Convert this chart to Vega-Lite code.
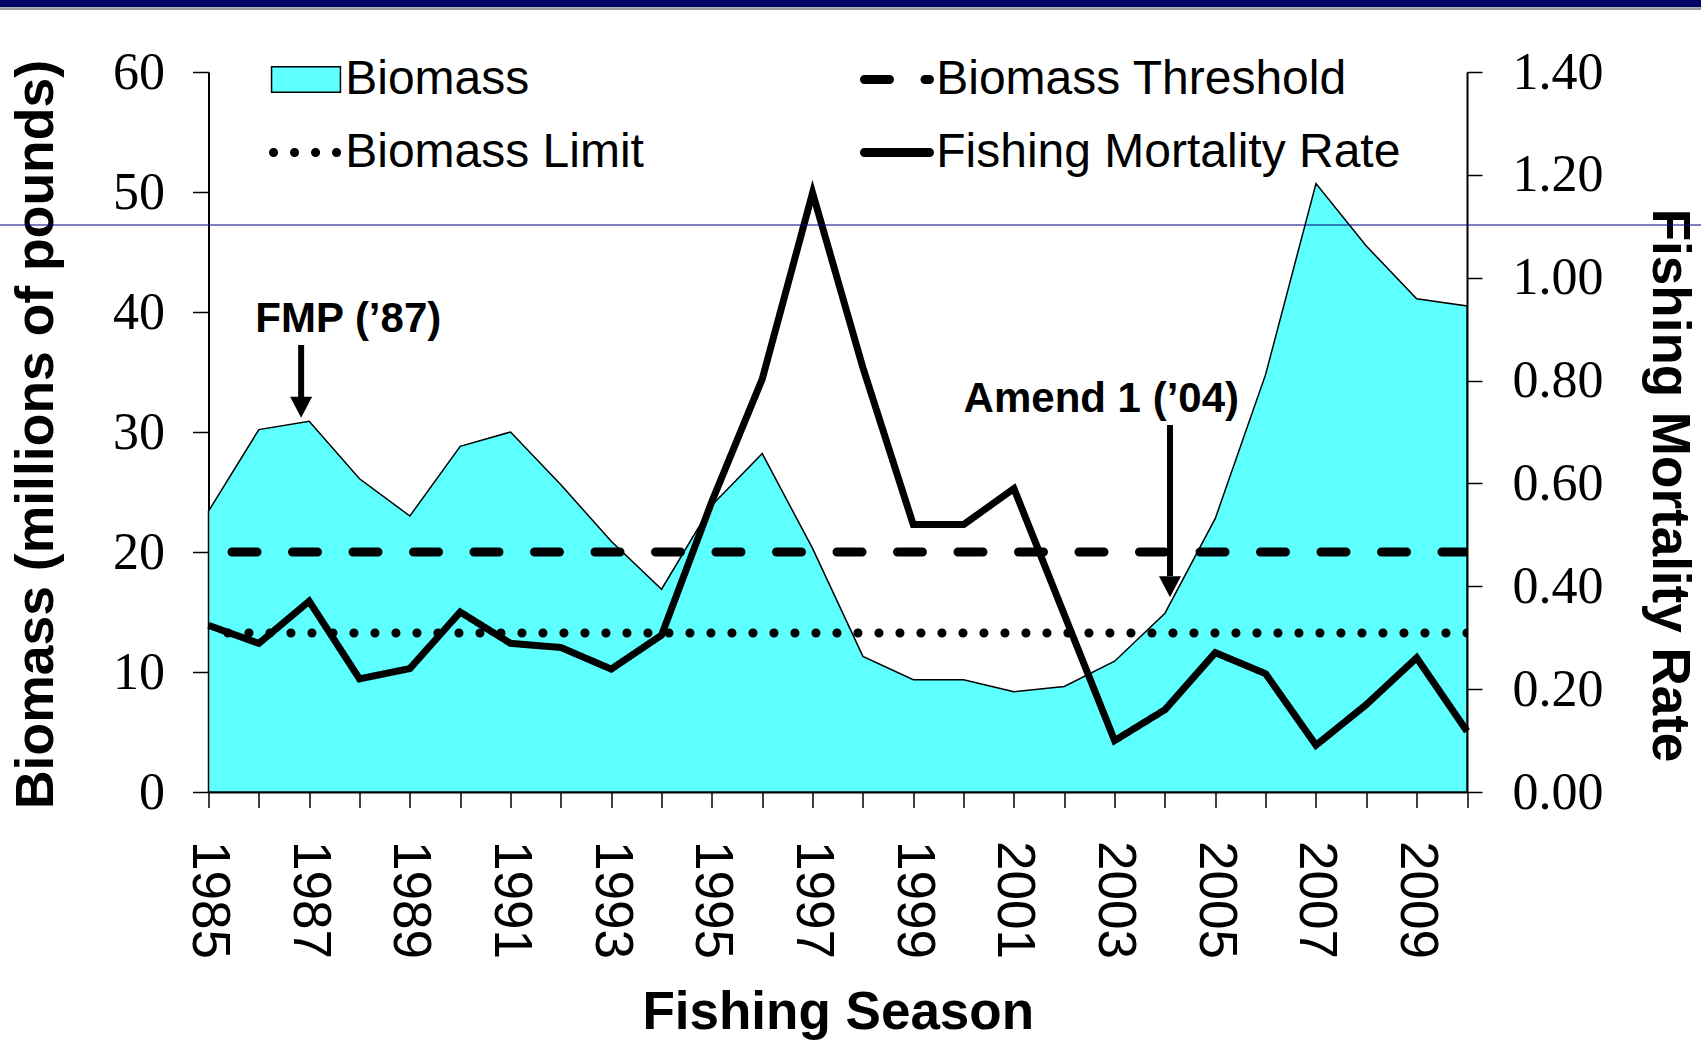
{
  "$schema": "https://vega.github.io/schema/vega-lite/v6.json",
  "width": 1258.5,
  "height": 720,
  "autosize": {"type": "none"},
  "padding": {"left": 208.5, "top": 72, "right": 234, "bottom": 250},
  "background": "white",
  "config": {"view": {"stroke": null}, "font": "Liberation Sans"},
  "datasets": {
    "biomass": [
      {"year": 1985, "biomass": 23.4},
      {"year": 1986, "biomass": 30.2},
      {"year": 1987, "biomass": 30.9},
      {"year": 1988, "biomass": 26.1},
      {"year": 1989, "biomass": 23.0},
      {"year": 1990, "biomass": 28.8},
      {"year": 1991, "biomass": 30.0},
      {"year": 1992, "biomass": 25.6},
      {"year": 1993, "biomass": 20.9},
      {"year": 1994, "biomass": 16.9},
      {"year": 1995, "biomass": 23.9},
      {"year": 1996, "biomass": 28.2},
      {"year": 1997, "biomass": 20.3},
      {"year": 1998, "biomass": 11.3},
      {"year": 1999, "biomass": 9.35},
      {"year": 2000, "biomass": 9.35},
      {"year": 2001, "biomass": 8.35},
      {"year": 2002, "biomass": 8.8},
      {"year": 2003, "biomass": 10.9},
      {"year": 2004, "biomass": 14.9},
      {"year": 2005, "biomass": 22.8},
      {"year": 2006, "biomass": 34.8},
      {"year": 2007, "biomass": 50.7},
      {"year": 2008, "biomass": 45.5},
      {"year": 2009, "biomass": 41.1},
      {"year": 2010, "biomass": 40.5}
    ],
    "mortality": [
      {"year": 1985, "rate": 0.324, "series": "Fishing Mortality Rate"},
      {"year": 1986, "rate": 0.289, "series": "Fishing Mortality Rate"},
      {"year": 1987, "rate": 0.371, "series": "Fishing Mortality Rate"},
      {"year": 1988, "rate": 0.220, "series": "Fishing Mortality Rate"},
      {"year": 1989, "rate": 0.240, "series": "Fishing Mortality Rate"},
      {"year": 1990, "rate": 0.350, "series": "Fishing Mortality Rate"},
      {"year": 1991, "rate": 0.289, "series": "Fishing Mortality Rate"},
      {"year": 1992, "rate": 0.281, "series": "Fishing Mortality Rate"},
      {"year": 1993, "rate": 0.239, "series": "Fishing Mortality Rate"},
      {"year": 1994, "rate": 0.305, "series": "Fishing Mortality Rate"},
      {"year": 1995, "rate": 0.565, "series": "Fishing Mortality Rate"},
      {"year": 1996, "rate": 0.803, "series": "Fishing Mortality Rate"},
      {"year": 1997, "rate": 1.165, "series": "Fishing Mortality Rate"},
      {"year": 1998, "rate": 0.825, "series": "Fishing Mortality Rate"},
      {"year": 1999, "rate": 0.520, "series": "Fishing Mortality Rate"},
      {"year": 2000, "rate": 0.520, "series": "Fishing Mortality Rate"},
      {"year": 2001, "rate": 0.590, "series": "Fishing Mortality Rate"},
      {"year": 2002, "rate": 0.345, "series": "Fishing Mortality Rate"},
      {"year": 2003, "rate": 0.100, "series": "Fishing Mortality Rate"},
      {"year": 2004, "rate": 0.160, "series": "Fishing Mortality Rate"},
      {"year": 2005, "rate": 0.271, "series": "Fishing Mortality Rate"},
      {"year": 2006, "rate": 0.230, "series": "Fishing Mortality Rate"},
      {"year": 2007, "rate": 0.091, "series": "Fishing Mortality Rate"},
      {"year": 2008, "rate": 0.170, "series": "Fishing Mortality Rate"},
      {"year": 2009, "rate": 0.261, "series": "Fishing Mortality Rate"},
      {"year": 2010, "rate": 0.118, "series": "Fishing Mortality Rate"}
    ],
    "reference": [
      {"series": "Biomass Threshold", "biomass": 20},
      {"series": "Biomass Limit", "biomass": 13.25}
    ],
    "notes": [
      {"label": "FMP (’87)", "year": 1985.93, "biomass": 38.36},
      {"label": "Amend 1 (’04)", "year": 2000.0, "biomass": 31.7}
    ],
    "arrows": [
      {"label": "FMP (’87)", "year": 1986.84, "top": 37.25, "base": 32.9, "head": 32.06},
      {"label": "Amend 1 (’04)", "year": 2004.1, "top": 30.58, "base": 18.0, "head": 17.1}
    ]
  },
  "layer": [
    {
      "layer": [
        {
          "data": {"name": "biomass"},
          "mark": {"type": "area", "fill": "#5DFFFF", "fillOpacity": 1, "stroke": "black", "strokeWidth": 1.5, "strokeJoin": "miter"},
          "encoding": {
            "x": {
              "field": "year", "type": "quantitative",
              "scale": {"domain": [1985, 2010], "nice": false, "zero": false},
              "axis": {
                "values": [1985, 1986, 1987, 1988, 1989, 1990, 1991, 1992, 1993, 1994, 1995, 1996, 1997, 1998, 1999, 2000, 2001, 2002, 2003, 2004, 2005, 2006, 2007, 2008, 2009, 2010],
                "format": "d",
                "labelExpr": "datum.value % 2 === 1 ? datum.label : ''",
                "labelAngle": 90, "labelAlign": "left", "labelBaseline": "middle",
                "labelFont": "Liberation Sans", "labelFontSize": 53, "labelColor": "black",
                "labelPadding": 33, "labelOverlap": false, "labelFlush": false, "labelBound": false,
                "tickSize": 15.5, "tickWidth": 1.5, "tickColor": "black",
                "domainColor": "black", "domainWidth": 2, "grid": false,
                "title": "Fishing Season", "titleFont": "Liberation Sans", "titleFontWeight": "bold",
                "titleFontSize": 53, "titleColor": "black",
                "titleX": 629.25, "titleY": 236, "titleAlign": "center", "titleBaseline": "alphabetic", "titleAngle": 0
              }
            },
            "y": {
              "field": "biomass", "type": "quantitative",
              "scale": {"domain": [0, 60], "nice": false},
              "axis": {
                "values": [0, 10, 20, 30, 40, 50, 60], "format": "d",
                "labelFont": "Liberation Serif", "labelFontSize": 52, "labelColor": "black",
                "labelPadding": 28, "labelOverlap": false, "labelBound": false,
                "tickSize": 16, "tickWidth": 1.5, "tickColor": "black",
                "domainColor": "black", "domainWidth": 2, "grid": false,
                "title": "Biomass (millions of pounds)",
                "titleFont": "Liberation Sans",
                "titleFontWeight": "bold", "titleFontSize": 53.5, "titleColor": "black",
                "titleAngle": -90, "titleX": -156, "titleY": 362, "titleAlign": "center", "titleBaseline": "alphabetic"
              }
            }
          }
        },
        {
          "data": {"name": "reference"},
          "mark": {"type": "rule", "color": "black", "strokeWidth": 9, "strokeCap": "round", "clip": true},
          "encoding": {
            "y": {"field": "biomass", "type": "quantitative", "scale": {"domain": [0, 60], "nice": false}},
            "strokeDash": {
              "field": "series", "type": "nominal",
              "scale": {
                "domain": ["Biomass", "Biomass Limit", "Biomass Threshold", "Fishing Mortality Rate"],
                "range": [[1, 0], [0.1, 20.9], [25, 35.5], [1, 0]]
              },
              "legend": {
                "title": null, "orient": "none", "legendX": 73.5, "legendY": -16.5,
                "columns": 2, "columnPadding": 202, "rowPadding": 25, "padding": 0,
                "symbolType": "stroke", "symbolSize": 4225, "symbolStrokeWidth": 9,
                "symbolStrokeColor": "black", "symbolFillColor": "transparent", "symbolOffset": 0,
                "labelFont": "Liberation Sans", "labelFontSize": 48, "labelColor": "black",
                "labelLimit": 1000, "labelOffset": 15.2,
                "encode": {
                  "symbols": {
                    "update": {
                      "shape": {"signal": "datum.value === 'Biomass' ? 'M-1.06,-0.39L1.06,-0.39L1.06,0.39L-1.06,0.39Z' : 'stroke'"},
                      "fill": {"signal": "datum.value === 'Biomass' ? '#5DFFFF' : 'transparent'"},
                      "stroke": {"value": "black"},
                      "strokeWidth": {"signal": "datum.value === 'Biomass' ? 1.5 : 9"},
                      "strokeCap": {"value": "round"},
                      "opacity": {"value": 1}
                    }
                  }
                }
              }
            }
          }
        },
        {
          "data": {"name": "notes"},
          "mark": {"type": "text", "align": "left", "baseline": "alphabetic", "font": "Liberation Sans", "fontWeight": "bold", "fontSize": 42, "color": "black"},
          "encoding": {
            "x": {"field": "year", "type": "quantitative", "scale": {"domain": [1985, 2010], "nice": false, "zero": false}},
            "y": {"field": "biomass", "type": "quantitative", "scale": {"domain": [0, 60], "nice": false}},
            "text": {"field": "label"}
          }
        },
        {
          "data": {"name": "arrows"},
          "mark": {"type": "rule", "color": "black", "strokeWidth": 6},
          "encoding": {
            "x": {"field": "year", "type": "quantitative", "scale": {"domain": [1985, 2010], "nice": false, "zero": false}},
            "y": {"field": "top", "type": "quantitative", "scale": {"domain": [0, 60], "nice": false}},
            "y2": {"field": "base"}
          }
        },
        {
          "data": {"name": "arrows"},
          "mark": {"type": "point", "shape": "M-1,-0.95L1,-0.95L0,0.95Z", "size": 484, "filled": true, "color": "black", "opacity": 1, "strokeWidth": 0},
          "encoding": {
            "x": {"field": "year", "type": "quantitative", "scale": {"domain": [1985, 2010], "nice": false, "zero": false}},
            "y": {"field": "head", "type": "quantitative", "scale": {"domain": [0, 60], "nice": false}}
          }
        }
      ]
    },
    {
      "data": {"name": "mortality"},
      "mark": {"type": "line", "color": "black", "strokeWidth": 7, "strokeJoin": "miter", "strokeCap": "butt"},
      "encoding": {
        "x": {"field": "year", "type": "quantitative", "scale": {"domain": [1985, 2010], "nice": false, "zero": false}},
        "y": {
          "field": "rate", "type": "quantitative",
          "scale": {"domain": [0, 1.4], "nice": false},
          "axis": {
            "orient": "right",
            "values": [0, 0.2, 0.4, 0.6, 0.8, 1.0, 1.2, 1.4], "format": ".2f",
            "labelFont": "Liberation Serif", "labelFontSize": 52, "labelColor": "black",
            "labelPadding": 30, "labelOverlap": false, "labelBound": false,
            "tickSize": 15, "tickWidth": 1.5, "tickColor": "black",
            "domainColor": "black", "domainWidth": 2, "grid": false,
            "title": "Fishing Mortality Rate", "titleFont": "Liberation Sans", "titleFontWeight": "bold",
            "titleFontSize": 53, "titleColor": "black",
            "titleAngle": 90, "titleX": 185, "titleY": 413, "titleAlign": "center", "titleBaseline": "alphabetic"
          }
        },
        "strokeDash": {
          "field": "series", "type": "nominal",
          "scale": {
            "domain": ["Biomass", "Biomass Limit", "Biomass Threshold", "Fishing Mortality Rate"],
            "range": [[1, 0], [0.1, 20.9], [25, 35.5], [1, 0]]
          },
          "legend": {
            "title": null, "orient": "none", "legendX": 73.5, "legendY": -16.5,
            "columns": 2, "columnPadding": 202, "rowPadding": 25, "padding": 0,
            "symbolType": "stroke", "symbolSize": 4225, "symbolStrokeWidth": 9,
            "symbolStrokeColor": "black", "symbolFillColor": "transparent", "symbolOffset": 0,
            "labelFont": "Liberation Sans", "labelFontSize": 48, "labelColor": "black",
            "labelLimit": 1000, "labelOffset": 15.2,
            "encode": {
              "symbols": {
                "update": {
                  "shape": {"signal": "datum.value === 'Biomass' ? 'M-1.06,-0.39L1.06,-0.39L1.06,0.39L-1.06,0.39Z' : 'stroke'"},
                  "fill": {"signal": "datum.value === 'Biomass' ? '#5DFFFF' : 'transparent'"},
                  "stroke": {"value": "black"},
                  "strokeWidth": {"signal": "datum.value === 'Biomass' ? 1.5 : 9"},
                  "strokeCap": {"value": "round"},
                  "opacity": {"value": 1}
                }
              }
            }
          }
        }
      }
    },
    {
      "layer": [
        {
          "data": {"values": [{"from": 1975, "to": 2020, "level": 65.7}]},
          "mark": {"type": "rule", "color": "#000066", "strokeWidth": 7.4, "clip": false},
          "encoding": {
            "x": {"field": "from", "type": "quantitative", "scale": {"domain": [1985, 2010], "nice": false, "zero": false}},
            "x2": {"field": "to"},
            "y": {"field": "level", "type": "quantitative", "scale": {"domain": [0, 60], "nice": false}, "axis": null}
          }
        },
        {
          "data": {"values": [{"from": 1975, "to": 2020, "level": 65.27}]},
          "mark": {"type": "rule", "color": "#9a9a9a", "strokeWidth": 2.6, "clip": false},
          "encoding": {
            "x": {"field": "from", "type": "quantitative", "scale": {"domain": [1985, 2010], "nice": false, "zero": false}},
            "x2": {"field": "to"},
            "y": {"field": "level", "type": "quantitative", "scale": {"domain": [0, 60], "nice": false}, "axis": null}
          }
        },
        {
          "data": {"values": [{"from": 1975, "to": 2020, "level": 47.25}]},
          "mark": {"type": "rule", "color": "#000080", "strokeWidth": 1.2, "clip": false},
          "encoding": {
            "x": {"field": "from", "type": "quantitative", "scale": {"domain": [1985, 2010], "nice": false, "zero": false}},
            "x2": {"field": "to"},
            "y": {"field": "level", "type": "quantitative", "scale": {"domain": [0, 60], "nice": false}, "axis": null}
          }
        }
      ]
    }
  ],
  "resolve": {"scale": {"y": "independent"}}
}
